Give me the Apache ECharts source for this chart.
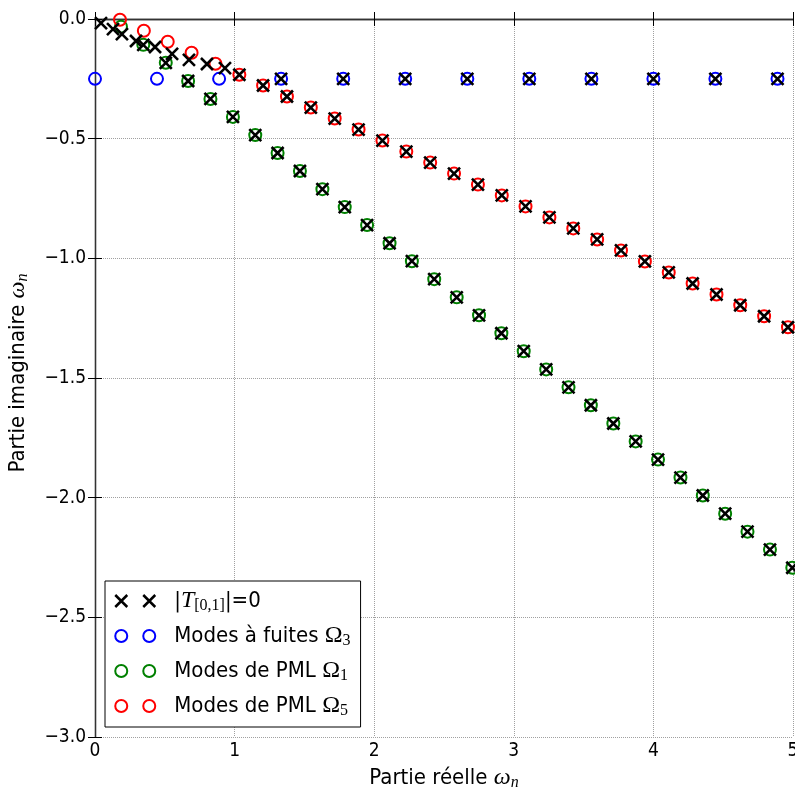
<!DOCTYPE html>
<html><head><meta charset="utf-8">
<script src="https://cdn.jsdelivr.net/npm/echarts@6/dist/echarts.min.js"></script>
<style>html,body{margin:0;padding:0;background:#fff;overflow:hidden}#c{width:795px;height:789px}</style>
</head><body><div id="c"></div>
<script>
// ---- data ----
const xTicks = [0, 1, 2, 3, 4, 5];
const yTicks = [0, -0.5, -1, -1.5, -2, -2.5, -3];

// Leaky modes (Omega_3)
const blueX = [0, 0.444, 0.889, 1.333, 1.778, 2.222, 2.667, 3.111, 3.556, 4.0, 4.444, 4.889];
const blueY = [-0.25, -0.25, -0.25, -0.25, -0.25, -0.25, -0.25, -0.25, -0.25, -0.25, -0.25, -0.25];

// PML modes (Omega_1)
const greenX = [0.186, 0.346, 0.507, 0.667, 0.827, 0.988, 1.148, 1.308, 1.468, 1.629, 1.789, 1.949, 2.110, 2.270, 2.430, 2.591,
  2.751, 2.911, 3.071, 3.232, 3.392, 3.552, 3.713, 3.873, 4.033, 4.194, 4.354, 4.514, 4.674, 4.835, 4.995];
const greenY = [-0.032, -0.108, -0.183, -0.259, -0.334, -0.409, -0.485, -0.560, -0.635, -0.711, -0.786, -0.861, -0.937, -1.012, -1.087, -1.163,
  -1.238, -1.313, -1.388, -1.464, -1.539, -1.614, -1.690, -1.765, -1.841, -1.916, -1.991, -2.067, -2.142, -2.217, -2.293];

// PML modes (Omega_5)
const redX = [0.179, 0.350, 0.521, 0.692, 0.863, 1.034, 1.204, 1.375, 1.546, 1.717, 1.888, 2.059, 2.230, 2.401, 2.572,
  2.743, 2.914, 3.084, 3.255, 3.426, 3.597, 3.768, 3.939, 4.110, 4.281, 4.452, 4.622, 4.793, 4.964];
const redY = [-0.003, -0.049, -0.095, -0.141, -0.187, -0.233, -0.278, -0.324, -0.370, -0.416, -0.462, -0.508, -0.554, -0.600, -0.646,
  -0.692, -0.737, -0.783, -0.829, -0.875, -0.921, -0.967, -1.013, -1.059, -1.105, -1.151, -1.196, -1.242, -1.288];

// zeros of |T[0,1]| that lie on no circle
const crossX = [0.043, 0.129, 0.193, 0.294, 0.430, 0.552, 0.673, 0.802, 0.931];
const crossY = [-0.017, -0.042, -0.063, -0.092, -0.117, -0.146, -0.171, -0.188, -0.205];
// first indices at which the zeros coincide with each family of circles
const crossOnGreenFrom = 1, crossOnRedFrom = 5, crossOnBlueFrom = 3;

// ---- chart ----
const pair = (xs, ys) => xs.map((x, i) => [x, ys[i]]);
const crossPts = pair(crossX, crossY)
  .concat(pair(greenX, greenY).slice(crossOnGreenFrom))
  .concat(pair(redX, redY).slice(crossOnRedFrom))
  .concat(pair(blueX, blueY).slice(crossOnBlueFrom));

const FONT = '"DejaVu Sans Condensed", "DejaVu Sans"';
const MATH = 'Liberation Serif';
const richText = {
  t: {fontFamily: FONT, fontSize: 22, color: '#000'},
  m: {fontFamily: MATH, fontSize: 24, color: '#000'},
  mi: {fontFamily: MATH, fontStyle: 'italic', fontSize: 24, color: '#000'},
  s: {fontFamily: MATH, fontSize: 16, color: '#000', padding: [10, 0, 0, 0]},
  si: {fontFamily: MATH, fontStyle: 'italic', fontSize: 16, color: '#000', padding: [10, 0, 0, 0]}
};
const fmtNum = v => (v < 0 ? '\u2212' : '') + Math.abs(v).toFixed(1);

const axisLineStyle = {show: true, lineStyle: {color: '#333', width: 1.3}};
const tickStyle = {show: true, inside: true, length: 7, lineStyle: {color: '#000', width: 1}};
const gridLine = {show: true, lineStyle: {type: 'dotted', color: '#a0a0a0', width: 1}};

const CROSS = 'path://M0,0L10,10M10,0L0,10';
const crossIcon = 'path://M0,0L12,12M12,0L0,12M28,0L40,12M40,0L28,12';
const circIcon = 'path://M0,6A6,6,0,1,1,12,6A6,6,0,1,1,0,6ZM28,6A6,6,0,1,1,40,6A6,6,0,1,1,28,6Z';

const legendLabels = {
  T: '{t||}{mi|T}{s|[0,1]}{t||=0}',
  F: '{t|Modes à fuites }{m|Ω}{s|3}',
  P1: '{t|Modes de PML }{m|Ω}{s|1}',
  P5: '{t|Modes de PML }{m|Ω}{s|5}'
};

const open = c => ({color: 'rgba(0,0,0,0)', borderColor: c, borderWidth: 2, opacity: 1});

const option = {
  animation: false,
  backgroundColor: '#fff',
  grid: {left: 95, right: 2, top: 19, bottom: 52, containLabel: false, outerBoundsMode: 'none'},
  xAxis: [
    {type: 'value', min: xTicks[0], max: xTicks[xTicks.length - 1], interval: 1, position: 'bottom',
     axisLine: axisLineStyle, axisTick: tickStyle, splitLine: gridLine,
     axisLabel: {fontSize: 19, fontFamily: FONT, color: '#000', margin: 5, formatter: v => String(v)},
     name: '{t|Partie réelle }{mi|ω}{si|n}', nameLocation: 'middle', nameGap: 28,
     nameTextStyle: {rich: richText}},
    {type: 'value', min: xTicks[0], max: xTicks[xTicks.length - 1], interval: 1, position: 'top',
     axisLine: axisLineStyle, axisTick: tickStyle, splitLine: {show: false}, axisLabel: {show: false}}
  ],
  yAxis: [
    {type: 'value', min: yTicks[yTicks.length - 1], max: yTicks[0], interval: 0.5, position: 'left',
     axisLine: axisLineStyle, axisTick: tickStyle, splitLine: gridLine,
     axisLabel: {fontSize: 19, fontFamily: FONT, color: '#000', margin: 9, formatter: fmtNum},
     name: '{t|Partie imaginaire }{mi|ω}{si|n}', nameLocation: 'middle', nameGap: 64,
     nameTextStyle: {rich: richText, padding: [0, 0, 0, 10]}},
    {type: 'value', min: yTicks[yTicks.length - 1], max: yTicks[0], interval: 0.5, position: 'right',
     axisLine: axisLineStyle, axisTick: tickStyle, splitLine: {show: false}, axisLabel: {show: false}}
  ],
  legend: {
    orient: 'vertical', left: 105, top: 581,
    backgroundColor: '#fff', borderColor: '#000', borderWidth: 1, borderRadius: 0,
    padding: [8, 10, 8, 9], itemGap: 10, itemWidth: 40, itemHeight: 13,
    selectedMode: false,
    textStyle: {fontSize: 22, fontFamily: FONT, color: '#000', padding: [0, 0, 0, 14], rich: richText},
    formatter: name => legendLabels[name],
    data: [
      {name: 'T', icon: crossIcon, itemStyle: {color: 'rgba(0,0,0,0)', borderColor: '#000', borderWidth: 2.5, opacity: 1}},
      {name: 'F', icon: circIcon, itemStyle: open('#0000ff')},
      {name: 'P1', icon: circIcon, itemStyle: open('#008000')},
      {name: 'P5', icon: circIcon, itemStyle: open('#ff0000')}
    ]
  },
  series: [
    {type: 'scatter', name: 'F', data: pair(blueX, blueY), symbol: 'circle', symbolSize: 12, z: 2,
     itemStyle: open('#0000ff'), emphasis: {disabled: true}},
    {type: 'scatter', name: 'P1', data: pair(greenX, greenY), symbol: 'circle', symbolSize: 12, z: 2,
     itemStyle: open('#008000'), emphasis: {disabled: true}},
    {type: 'scatter', name: 'P5', data: pair(redX, redY), symbol: 'circle', symbolSize: 12, z: 2,
     itemStyle: open('#ff0000'), emphasis: {disabled: true}},
    {type: 'scatter', name: 'T', data: crossPts, symbol: CROSS, symbolSize: 12, z: 3,
     itemStyle: {color: 'rgba(0,0,0,0)', borderColor: '#000', borderWidth: 2.6, opacity: 1}, emphasis: {disabled: true}}
  ]
};
const chart = echarts.init(document.getElementById('c'), null, {renderer: 'canvas'});
chart.setOption(option);
</script>
</body></html>
